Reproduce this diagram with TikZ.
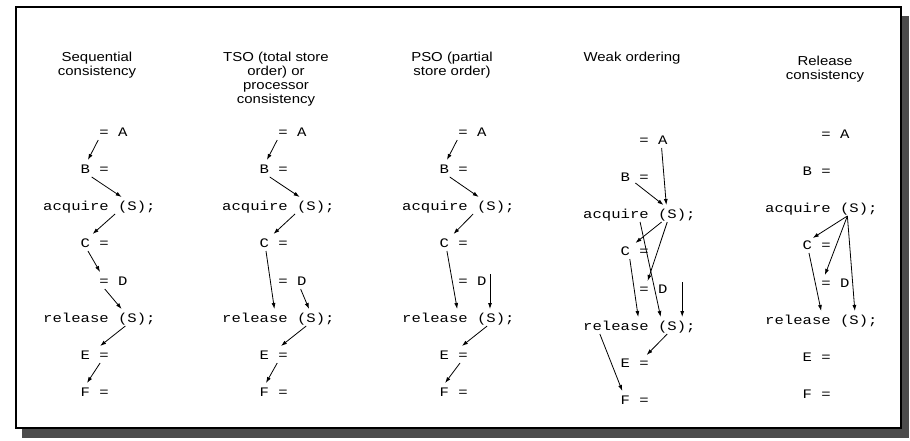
\documentclass[tikz,border=0pt]{standalone}
\usepackage{fontspec}
\setmainfont{Liberation Sans}
\newfontfamily\codefont[FakeStretch=1.2]{Liberation Mono}
\newfontfamily\titlefont[FakeStretch=1.15]{Liberation Sans}
\usetikzlibrary{arrows.meta}
\def\cw{9.36}
\newcommand\mkcol[3]{%
 \node[cd] (A#1) at ({#2+6*\cw},{133+#3}) {= A};
 \node[cd] (B#1) at ({#2+4*\cw},{170+#3}) {B =};
 \node[cd] (Q#1) at ({#2},{207+#3}) {acquire (S);};
 \node[cd] (C#1) at ({#2+4*\cw},{244+#3}) {C =};
 \node[cd] (D#1) at ({#2+6*\cw},{282+#3}) {= D};
 \node[cd] (R#1) at ({#2},{319+#3}) {release (S);};
 \node[cd] (E#1) at ({#2+4*\cw},{356+#3}) {E =};
 \node[cd] (F#1) at ({#2+4*\cw},{393+#3}) {F =};
}
\newcommand\arw[6]{\draw[arr] ([shift={({#2*\cw},#3)}]#1.west) -- ([shift={({#5*\cw},#6)}]#4.west);}
\begin{document}
\begin{tikzpicture}[x=1pt,y=-1pt,
  cd/.style={font=\codefont\fontsize{13}{13}\selectfont, inner sep=0pt, anchor=west, text height=7.4pt, text depth=0pt},
  ttl/.style={font=\titlefont\fontsize{13}{14}\selectfont, align=center, inner sep=0pt, anchor=north},
  arr/.style={-{Latex[length=6pt,width=4pt]}, line width=0.8pt},
  shadow/.style={fill=black!70},
  frame/.style={draw, line width=1.1pt}]
\useasboundingbox (0,0) rectangle (910,440);
\fill[white] (0,0) rectangle (910,440);
\fill[shadow] (22,429) rectangle (909,438);
\fill[shadow] (901,16) rectangle (909,438);
\draw[frame] (16,7) rectangle (901,428);

% titles
\node[ttl] (t1) at (97,52) {Sequential\\consistency};
\node[ttl] (t2) at (276,52) {TSO (total store\\order) or\\processor\\consistency};
\node[ttl] (t3) at (452,52) {PSO (partial\\store order)};
\node[ttl] (t4) at (632,52) {Weak ordering};
\node[ttl] (t5) at (825,56) {Release\\consistency};

% columns
\mkcol{1}{43}{0}
\mkcol{2}{222}{0}
\mkcol{3}{402}{0}
\mkcol{4}{583}{8}
\mkcol{5}{765}{2}

% Sequential consistency
\arw{A1}{-0.1}{7}{B1}{0.8}{-10}
\arw{B1}{1.2}{7}{Q1}{8.4}{-10}
\arw{Q1}{7.7}{7}{C1}{1.3}{-10}
\arw{C1}{0.8}{7}{D1}{0.1}{-10}
\arw{D1}{0.6}{7}{R1}{8.4}{-10}
\arw{R1}{8.8}{7}{E1}{2.1}{-10}
\arw{E1}{2.1}{7}{F1}{0.7}{-10}

% TSO
\arw{A2}{-0.1}{7}{B2}{0.8}{-10}
\arw{B2}{1.1}{7}{Q2}{8.3}{-10}
\arw{Q2}{7.8}{7}{C2}{1.5}{-10}
\arw{C2}{0.7}{7}{R2}{5.6}{-10}
\arw{D2}{2.4}{7}{R2}{9.3}{-10}
\arw{R2}{9.0}{7}{E2}{2.3}{-10}
\arw{E2}{1.9}{7}{F2}{0.7}{-10}

% PSO
\arw{A3}{-0.1}{7}{B3}{0.8}{-10}
\arw{B3}{1.1}{7}{Q3}{8.2}{-10}
\arw{Q3}{7.6}{7}{C3}{1.5}{-10}
\arw{C3}{0.8}{7}{R3}{5.9}{-10}
\coordinate (p3) at ([shift={({3.4*\cw},-8)}]D3.west);
\draw[arr] (p3) -- ([shift={({9.4*\cw},-10)}]R3.west);
\arw{R3}{9.1}{7}{E3}{2.4}{-10}
\arw{E3}{2.2}{7}{F3}{0.6}{-10}

% Weak ordering
\arw{A4}{2.4}{7}{Q4}{8.9}{-10}
\arw{B4}{1.6}{5}{Q4}{8.6}{-10}
\arw{Q4}{8.4}{7}{C4}{1.6}{-9}
\arw{Q4}{9.0}{7}{D4}{0.9}{-9}
\arw{Q4}{6.1}{7}{R4}{8.3}{-10}
\arw{C4}{1.0}{7}{R4}{5.9}{-10}
\coordinate (p4) at ([shift={({4.6*\cw},-8)}]D4.west);
\draw[arr] (p4) -- ([shift={({10.6*\cw},-10)}]R4.west);
\arw{R4}{9.0}{7}{E4}{2.8}{-9}
\arw{R4}{1.8}{7}{F4}{0.2}{-10}

% Release consistency
\arw{Q5}{8.8}{7}{C5}{1.1}{-8}
\arw{Q5}{8.8}{7}{D5}{0.4}{-9}
\arw{Q5}{8.8}{7}{R5}{9.6}{-10}
\arw{C5}{0.7}{7}{R5}{6.0}{-10}
\end{tikzpicture}
\end{document}
